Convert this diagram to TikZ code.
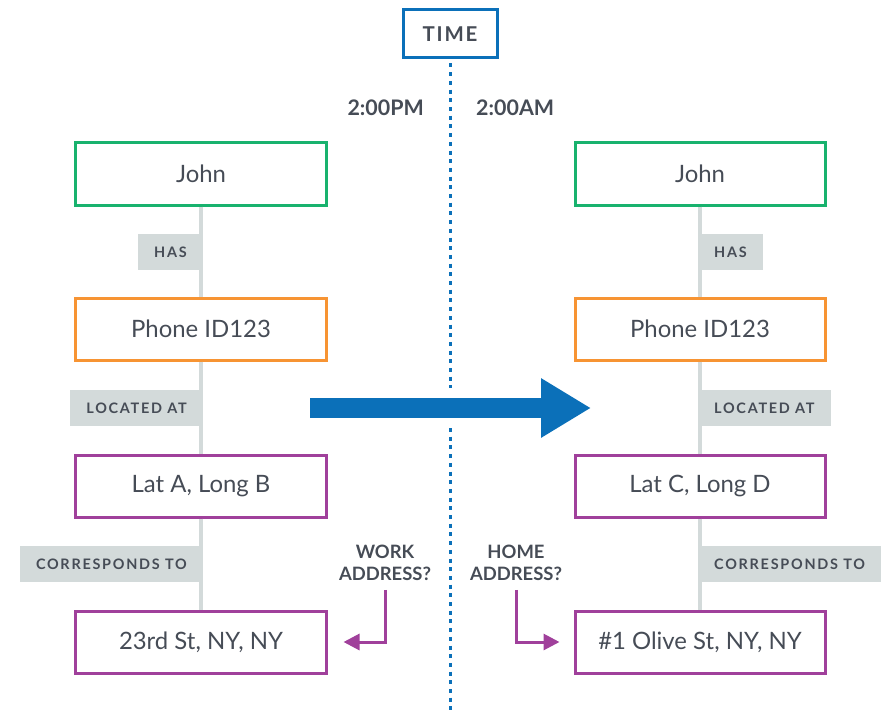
\documentclass[tikz,border=0pt]{standalone}
\usepackage{fontspec}
\setmainfont{Lato}
\newfontfamily\capsfont[LetterSpace=12]{Lato}
\newfontfamily\timefont[LetterSpace=9]{Lato}
\usetikzlibrary{arrows.meta}
\definecolor{txtgray}{RGB}{70,76,86}
\definecolor{lblgray}{RGB}{211,218,218}
\definecolor{timeblue}{RGB}{11,112,185}
\definecolor{jgreen}{RGB}{24,178,110}
\definecolor{phorange}{RGB}{247,148,51}
\definecolor{locpurple}{RGB}{160,64,155}
\begin{document}
\begin{tikzpicture}[x=1bp,y=-1bp]
\tikzset{ent/.style={draw,line width=3bp,fill=white,minimum width=250bp,minimum height=62bp,inner sep=0pt,text=txtgray,font=\fontsize{24}{28}\selectfont},
rel/.style={fill=lblgray,minimum height=36bp,inner xsep=16bp,inner ysep=0pt,text=txtgray,font=\capsfont\bfseries\fontsize{14.5}{17}\selectfont},
link/.style={draw=lblgray,line width=4bp},
hdr/.style={text=txtgray,font=\bfseries\fontsize{21.5}{24}\selectfont,inner sep=0pt},
qtxt/.style={text=txtgray,font=\bfseries\fontsize{18.5}{22}\selectfont,align=center,inner sep=0pt},
qarrow/.style={draw=locpurple,line width=3bp,-{Triangle[length=16bp,width=16bp]}},
timeline/.style={draw=timeblue,line width=3bp,dash pattern=on 4bp off 4.7bp}}
\useasboundingbox (0,0) rectangle (886,710);

% time axis
\node[draw=timeblue,line width=3bp,minimum width=94bp,minimum height=48bp,inner sep=0pt,text=txtgray,font=\timefont\bfseries\fontsize{20.5}{24}\selectfont] (time) at (450,34) {TIME};
\coordinate (gapA) at (450,388);
\coordinate (gapB) at (450,428);
\coordinate (axisend) at (450,710);
\draw[timeline] ([yshift=-4bp]time.south) -- (gapA);
\draw[timeline] (gapB) -- (axisend);
\node[hdr,anchor=east] (pm) at (424,108) {2:00PM};
\node[hdr,anchor=west] (am) at (476,108) {2:00AM};

% 2:00PM
\node[ent,draw=jgreen] (john1) at (201,174) {John};
\node[ent,draw=phorange] (phone1) at (201,329) {Phone ID123};
\node[ent,draw=locpurple] (loc1) at (201,486) {Lat A, Long B};
\node[ent,draw=locpurple] (addr1) at (201,642) {23rd St, NY, NY};
\draw[link] (john1) -- (phone1);
\draw[link] (phone1) -- (loc1);
\draw[link] (loc1) -- (addr1);
\node[rel,anchor=east] (has1) at (203,252) {HAS};
\node[rel,anchor=east] (at1) at (203,408) {LOCATED AT};
\node[rel,anchor=east] (cor1) at (203,564) {CORRESPONDS TO};

% 2:00AM
\node[ent,draw=jgreen] (john2) at (700,174) {John};
\node[ent,draw=phorange] (phone2) at (700,329) {Phone ID123};
\node[ent,draw=locpurple] (loc2) at (700,486) {Lat C, Long D};
\node[ent,draw=locpurple] (addr2) at (700,642) {\#1 Olive St, NY, NY};
\draw[link] (john2) -- (phone2);
\draw[link] (phone2) -- (loc2);
\draw[link] (loc2) -- (addr2);
\node[rel,anchor=west] (has2) at (698,252) {HAS};
\node[rel,anchor=west] (at2) at (698,408) {LOCATED AT};
\node[rel,anchor=west] (cor2) at (698,564) {CORRESPONDS TO};

% big arrow
\coordinate (arrS) at (310,408);
\coordinate (arrE) at (591,408);
\draw[draw=timeblue,line width=20bp,-{Triangle[length=50bp,width=56bp]}] (arrS) -- (arrE);

% guesses
\node[qtxt] (work) at (385,563) {WORK\\ADDRESS?};
\node[qtxt] (home) at (516,563) {HOME\\ADDRESS?};
\draw[qarrow] ([yshift=-9bp]work.south) |- ([xshift=16bp]addr1.east);
\draw[qarrow] ([yshift=-9bp]home.south) |- ([xshift=-14bp]addr2.west);
\end{tikzpicture}
\end{document}
